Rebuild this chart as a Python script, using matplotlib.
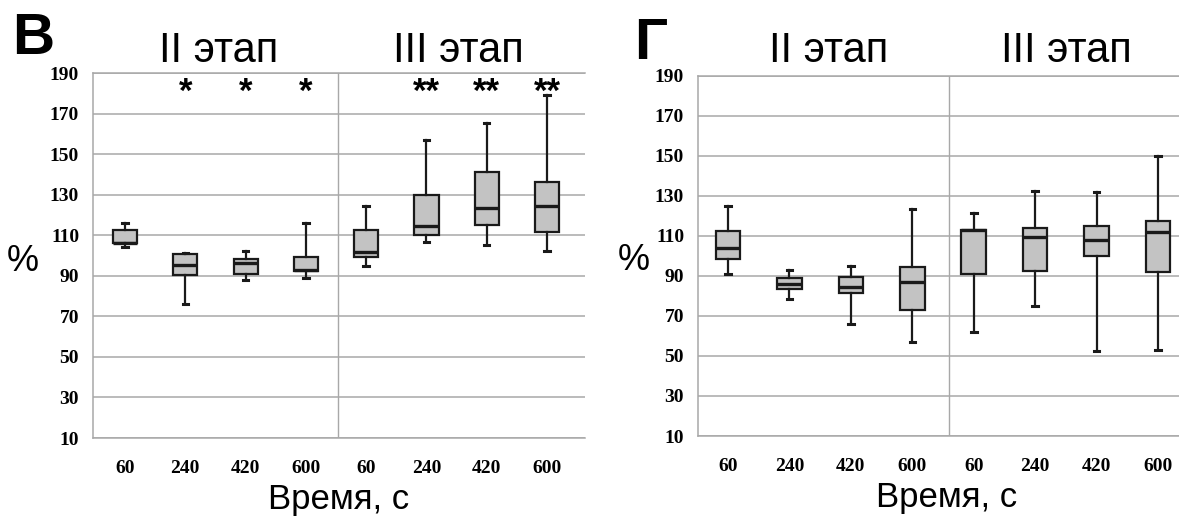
import matplotlib.pyplot as plt

# x categories (seconds) and stage names
times = ['60', '240', '420', '600', '60', '240', '420', '600']
stages = ['II этап', 'III этап']

# panel В
v_whislo = [104.2, 75.9, 87.7, 89.1, 94.9, 106.6, 105.3, 102.1]
v_q1 = [106.4, 90.5, 90.7, 92.4, 99.3, 110.0, 115.3, 111.5]
v_med = [106.4, 95.5, 96.4, 93.1, 101.6, 114.6, 123.3, 124.6]
v_q3 = [112.5, 100.6, 98.2, 99.3, 112.6, 129.7, 141.4, 136.5]
v_whishi = [115.8, 101.3, 102.0, 115.8, 124.3, 157.0, 165.4, 179.3]
v_stars = ['', '*', '*', '*', '', '**', '**', '**']

# panel Г
g_whislo = [91.0, 78.3, 65.8, 57.2, 62.2, 75.2, 52.3, 53.2]
g_q1 = [98.7, 83.3, 81.3, 73.2, 90.8, 92.5, 99.8, 92.0]
g_med = [103.8, 86.2, 84.3, 87.1, 112.8, 109.5, 107.8, 112.0]
g_q3 = [112.5, 88.9, 89.7, 94.4, 113.2, 114.0, 115.2, 117.5]
g_whishi = [124.8, 93.0, 95.0, 123.7, 121.5, 132.3, 132.0, 150.2]

SANS = 'Liberation Sans'
SERIF = 'Liberation Serif'
GRID = '#a8a8a8'


def make_stats(lo, q1, med, q3, hi):
    return [dict(whislo=a, q1=b, med=c, q3=d, whishi=e, fliers=[])
            for a, b, c, d, e in zip(lo, q1, med, q3, hi)]


def draw_panel(fig, rect, xlim, divider, stats, letter, letter_xy, stage_x,
               pct_xy, stars=None):
    ax = fig.add_axes(rect)
    pos = list(range(len(times)))
    ax.bxp(stats, positions=pos, widths=0.4, capwidths=0.09,
           patch_artist=True, showfliers=False,
           boxprops=dict(facecolor='#c3c3c3', edgecolor='#1a1a1a', linewidth=1.6),
           medianprops=dict(color='#1a1a1a', linewidth=2.4),
           whiskerprops=dict(color='#1a1a1a', linewidth=1.6),
           capprops=dict(color='#1a1a1a', linewidth=2.2))
    ax.set_xlim(*xlim)
    ax.set_ylim(10, 190)
    ax.set_yticks(range(10, 191, 20))
    ax.yaxis.grid(True, color=GRID, linewidth=1.1)
    ax.set_axisbelow(True)
    ax.axvline(divider, color=GRID, linewidth=1.0, zorder=0)
    for s in ['left', 'bottom', 'top']:
        ax.spines[s].set_color(GRID)
        ax.spines[s].set_linewidth(1.1)
    ax.spines['right'].set_visible(False)
    ax.set_xticks(pos)
    ax.set_xticklabels(times)
    ax.tick_params(length=0)
    ax.tick_params(axis='y', pad=10)
    ax.tick_params(axis='x', pad=16)
    for lab in ax.get_xticklabels():
        lab.set_fontfamily(SERIF)
        lab.set_fontweight('bold')
        lab.set_fontsize(14)
    for lab in ax.get_yticklabels():
        lab.set_fontfamily(SERIF)
        lab.set_fontweight('bold')
        lab.set_fontsize(14)
    ax.set_xlabel('Время, с', fontfamily=SANS, fontsize=25, labelpad=4)

    if stars:
        for x, s in zip(pos, stars):
            if s:
                ax.text(x, 180.5, s, ha='center', va='center', fontfamily=SANS,
                        fontweight='bold', fontsize=25)

    for st, x in zip(stages, stage_x):
        fig.text(x, 0.902, st, ha='center', va='center', fontfamily=SANS,
                 fontsize=30)
    fig.text(letter_xy[0], letter_xy[1], letter, ha='left', va='center',
             fontfamily=SANS, fontweight='bold', fontsize=42)
    fig.text(pct_xy[0], pct_xy[1], '%', ha='left', va='center',
             fontfamily=SANS, fontsize=26)
    return ax


fig = plt.figure(figsize=(11.79, 5.18), dpi=100)

draw_panel(fig, [0.0789, 0.1544, 0.4173, 0.7046], (-0.53, 7.63), 3.53,
           make_stats(v_whislo, v_q1, v_med, v_q3, v_whishi),
           'В', (0.010, 0.925), [219 / 1179, 458 / 1179], (0.006, 0.495),
           stars=v_stars)

draw_panel(fig, [0.592, 0.1583, 0.4215, 0.695], (-0.49, 7.6), 3.6,
           make_stats(g_whislo, g_q1, g_med, g_q3, g_whishi),
           'Г', (0.538, 0.915), [829 / 1179, 1066 / 1179], (0.524, 0.498))

fig.savefig('out.png', dpi=100)
